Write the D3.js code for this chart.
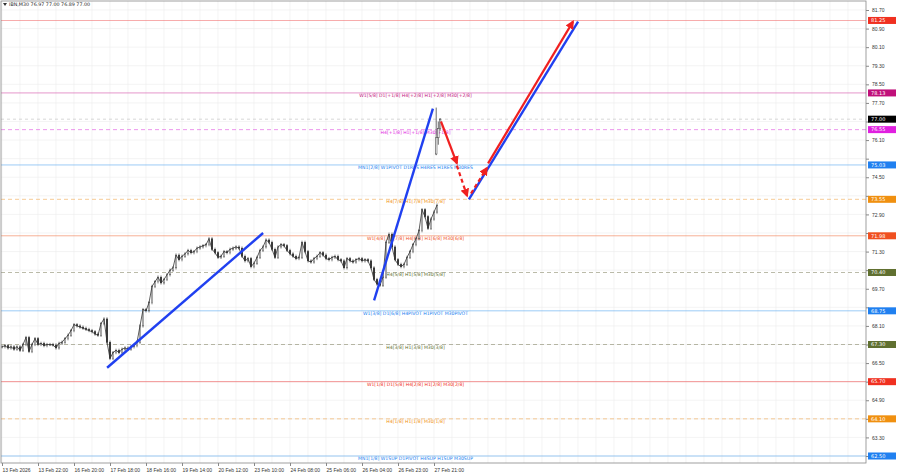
<!DOCTYPE html>
<html><head><meta charset="utf-8">
<script src="https://cdn.jsdelivr.net/npm/d3@7"></script>
<style>body{margin:0;background:#fff}svg{display:block;font-family:"DejaVu Sans",sans-serif}</style>
</head><body><svg id="c" width="900" height="474"></svg>
<script>
const title = "IBN,M30  76.97 77.00 76.89 77.00";
const closes = [67.2,67.25,67.15,67.2,67.1,67.2,67.05,67.3,67.6,67.0,67.3,67.55,67.3,67.35,67.25,67.3,67.3,67.28,67.15,67.35,67.4,67.55,67.7,67.9,68.15,68.1,68.05,68.0,67.95,67.9,67.85,67.75,67.7,68.2,68.4,67.4,66.7,66.95,67.05,66.95,67.1,67.15,67.1,67.2,67.25,67.4,68.1,68.8,68.75,69.1,69.8,70.0,70.2,69.95,70.1,70.3,70.5,70.6,71.15,70.95,71.1,71.2,71.35,71.25,71.3,71.45,71.5,71.55,71.6,71.85,71.4,71.25,71.05,71.1,71.3,71.25,71.4,71.45,71.5,71.45,71.1,70.9,71.0,70.65,70.8,71.05,71.35,71.5,71.8,71.7,71.4,71.05,71.5,71.6,71.55,71.35,71.2,71.1,71.0,71.05,71.7,71.3,70.9,70.85,71.0,71.1,71.25,71.15,71.0,70.95,71.05,71.1,70.95,70.9,70.6,71.0,70.9,70.85,70.95,71.0,70.9,70.95,70.9,70.6,70.1,69.9,69.85,70.2,71.7,72.05,71.5,70.95,70.75,70.65,70.75,71.05,71.3,71.6,71.85,72.2,73.1,72.8,72.3,72.7,73.0,73.3];
const lastT = [145.4,146.1,146.7];
const lastO = [75.5,76.2,76.6];
const lastH = [77.5,76.9,77.05];
const lastL = [75.45,75.9,76.5];
const lastC = [76.2,76.6,77.0];
const xLabels = ["13 Feb 2026","13 Feb 22:00","16 Feb 20:00","17 Feb 18:00","18 Feb 16:00","19 Feb 14:00","20 Feb 12:00","23 Feb 10:00","24 Feb 08:00","25 Feb 06:00","26 Feb 04:00","26 Feb 23:00","27 Feb 21:00"];
const levelPrice = [81.25,78.13,76.55,75.03,73.55,71.98,70.40,68.75,67.30,65.70,64.10,62.50];
const levelColor = ["#f06060","#d040a0","#e040e0","#4aa0f0","#f0a040","#f07040","#808060","#4aa0f0","#808060","#f04040","#f0a040","#4aa0f0"];
const levelBox = ["#f03020","#c0107a","#e020e0","#2080f0","#f09010","#f05020","#607030","#2080f0","#607030","#f03020","#f09010","#2080f0"];
const levelDash = [0,0,1,0,1,0,1,0,1,0,1,0];
const levelText = ["","W1[5/8] D1[+1/8] H4[+2/8] H1[+2/8] M30[+2/8]","H4[+1/8] H1[+1/8] M30[+1/8]","MN1[2/8] W1PIVOT D1RES H4RES H1RES M30RES","H4[7/8] H1[7/8] M30[7/8]","W1[4/8] D1[7/8] H4[6/8] H1[6/8] M30[6/8]","H4[5/8] H1[5/8] M30[5/8]","W1[3/8] D1[6/8] H4PIVOT H1PIVOT M30PIVOT","H4[3/8] H1[3/8] M30[3/8]","W1[1/8] D1[5/8] H4[2/8] H1[2/8] M30[2/8]","H4[1/8] H1[1/8] M30[1/8]","MN1[1/8] W1SUP D1PIVOT H4SUP H1SUP M30SUP"];
const blueLines = [[35.7,66.3,87.7,72.1],[124.7,69.2,144.3,77.45],[156.3,73.55,192.7,81.2]];
const redLines = [[147,76.9,152.3,75.1,0],[152.3,75.0,155.7,73.7,1],[157,73.8,162.3,74.9,1],[162.7,75.1,191,81.2,0]];

const svg = d3.select("#c");
const W=866,H=463;
const x = d3.scaleLinear().domain([0,288.67]).range([0,W]);
const y = d3.scaleLinear().domain([62.5,81.7]).range([456,10]);
const g = svg.append("g");
d3.range(0,48).forEach(i=>g.append("line").attr("x1",x(i*6+0.67)).attr("x2",x(i*6+0.67)).attr("y1",1).attr("y2",H).attr("stroke","#ececec").attr("stroke-width",0.6));
const yt = d3.range(0,25).map(k=>+(62.5+k*0.8).toFixed(2));
yt.forEach(v=>g.append("line").attr("x1",1).attr("x2",W).attr("y1",y(v)).attr("y2",y(v)).attr("stroke","#ececec").attr("stroke-width",0.6));
levelPrice.forEach((p,i)=>{
  svg.append("line").attr("x1",1).attr("x2",W).attr("y1",y(p)).attr("y2",y(p)).attr("stroke",levelColor[i]).attr("stroke-width",0.9).attr("stroke-dasharray",levelDash[i]?"4,3":null).attr("opacity",0.6);
  if(levelText[i]) svg.append("text").attr("x",x(138.5)).attr("y",y(p)+4).attr("text-anchor","middle").attr("font-size",4.6).attr("fill",levelBox[i]).text(levelText[i]);
});
svg.append("line").attr("x1",1).attr("x2",W).attr("y1",y(77.0)).attr("y2",y(77.0)).attr("stroke","#bbb").attr("stroke-dasharray","3,3").attr("stroke-width",0.6);
const cg = svg.append("g");
closes.forEach((c,i)=>{
  const o = i? closes[i-1]:c;
  const hi=Math.max(o,c)+0.07, lo=Math.min(o,c)-0.07;
  const xx=x(i+0.67);
  cg.append("line").attr("x1",xx).attr("x2",xx).attr("y1",y(hi)).attr("y2",y(lo)).attr("stroke","#444").attr("stroke-width",0.7);
  cg.append("rect").attr("x",xx-0.8).attr("width",1.6).attr("y",y(Math.max(o,c))).attr("height",Math.max(0.6,Math.abs(y(o)-y(c)))).attr("fill",c>=o?"#fff":"#222").attr("stroke","#333").attr("stroke-width",0.4);
  if(i) cg.append("line").attr("x1",x(i-0.33)).attr("x2",xx).attr("y1",y(o)).attr("y2",y(c)).attr("stroke","#333").attr("stroke-width",0.8);
});
lastT.forEach((t,i)=>{
  const xx=x(t);
  cg.append("line").attr("x1",xx).attr("x2",xx).attr("y1",y(lastH[i])).attr("y2",y(lastL[i])).attr("stroke","#444").attr("stroke-width",0.8);
  cg.append("rect").attr("x",xx-0.8).attr("width",1.6).attr("y",y(Math.max(lastO[i],lastC[i]))).attr("height",Math.abs(y(lastO[i])-y(lastC[i]))).attr("fill","#fff").attr("stroke","#333").attr("stroke-width",0.5);
});
const defs=svg.append("defs");
defs.append("marker").attr("id","ar").attr("viewBox","0 0 10 10").attr("refX",8).attr("refY",5).attr("markerWidth",4).attr("markerHeight",4).attr("orient","auto").append("path").attr("d","M0,0L10,5L0,10z").attr("fill","#f02020");
blueLines.forEach(l=>svg.append("line").attr("x1",x(l[0])).attr("y1",y(l[1])).attr("x2",x(l[2])).attr("y2",y(l[3])).attr("stroke","#2040f0").attr("stroke-width",2.4));
redLines.forEach(l=>svg.append("line").attr("x1",x(l[0])).attr("y1",y(l[1])).attr("x2",x(l[2])).attr("y2",y(l[3])).attr("stroke","#f02020").attr("stroke-width",2.2).attr("stroke-dasharray",l[4]?"4,3":null).attr("marker-end","url(#ar)"));
svg.append("rect").attr("x",1).attr("y",1).attr("width",W-1).attr("height",H-1).attr("fill","none").attr("stroke","#888").attr("stroke-width",0.8);
const boxPrices = levelPrice.concat([77.0]);
const ya = svg.append("g").attr("transform",`translate(${W},0)`).call(d3.axisRight(y).tickValues(yt).tickSize(3).tickFormat(d3.format(".2f")));
ya.select(".domain").remove();
ya.selectAll("text").attr("font-size",5).attr("fill","#333").attr("x",6)
  .style("display",d=>boxPrices.some(p=>Math.abs(y(p)-y(d))<7.5)?"none":null);
ya.selectAll("line").attr("stroke","#888");
const xTicks = xLabels.map((d,i)=>i*12+0.67);
const xa = svg.append("g").attr("transform",`translate(0,${H})`).call(d3.axisBottom(x).tickValues(xTicks).tickSize(3).tickFormat((d,i)=>xLabels[i]));
xa.select(".domain").remove();
xa.selectAll("text").attr("font-size",5).attr("fill","#333").attr("text-anchor","start").attr("dy","0.6em");
xa.selectAll("line").attr("stroke","#888");
const boxes = levelPrice.map((p,i)=>({p,c:levelBox[i]})).concat([{p:77.0,c:"#000"}]);
boxes.forEach(b=>{
  svg.append("rect").attr("x",W+2).attr("y",y(b.p)-3.5).attr("width",28).attr("height",7).attr("fill",b.c);
  svg.append("text").attr("x",W+5).attr("y",y(b.p)+1.8).attr("font-size",5).attr("fill","#fff").text(b.p.toFixed(2));
});
svg.append("text").attr("x",9).attr("y",6).attr("font-size",4.8).attr("fill","#222").text(title);
svg.append("path").attr("d","M3,3L7,3L5,6z").attr("fill","#333");
</script></body></html>
